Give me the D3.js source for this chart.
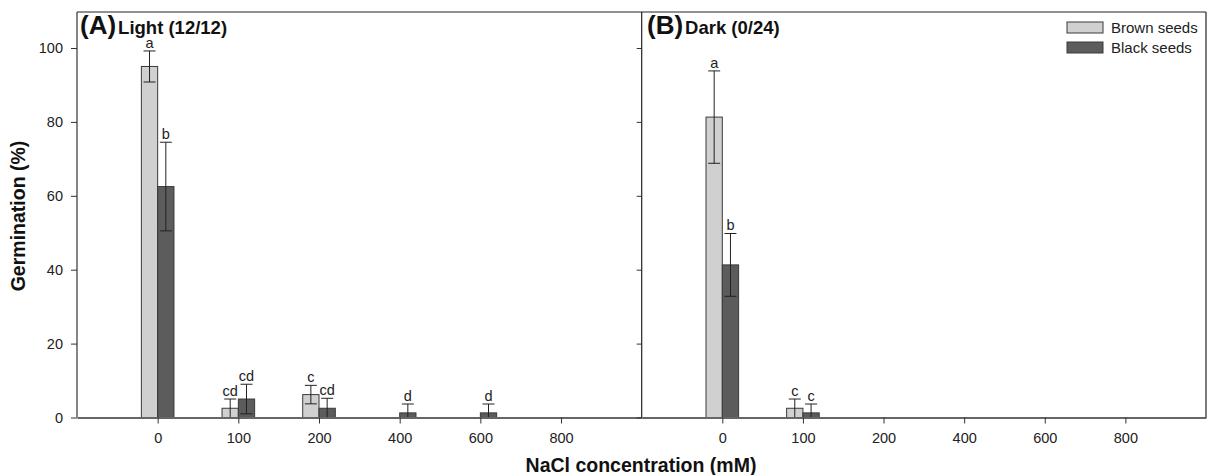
<!DOCTYPE html>
<html><head><meta charset="utf-8">
<script src="https://cdn.jsdelivr.net/npm/d3@7"></script>
<style>
body{margin:0;background:#fff;}
text{font-family:"Liberation Sans",Arial,sans-serif;}
</style></head>
<body><svg id="c" width="1210" height="475"></svg>
<script>
// ---- data ----
const categories = ["0","100","200","400","600","800"];
const yTicks = [0,20,40,60,80,100];
const seriesNames = ["Brown seeds","Black seeds"];

const lightBrown    = [95, 2.5, 6.2, 0, 0, 0];
const lightBrownErr = [4.2, 2.5, 2.5, 0, 0, 0];
const lightBrownLetters = ["a","cd","c","","",""];
const lightBlack    = [62.5, 5, 2.5, 1.25, 1.25, 0];
const lightBlackErr = [12, 4, 2.7, 2.4, 2.4, 0];
const lightBlackLetters = ["b","cd","cd","d","d",""];

const darkBrown    = [81.3, 2.5, 0, 0, 0, 0];
const darkBrownErr = [12.5, 2.5, 0, 0, 0, 0];
const darkBrownLetters = ["a","c","","","",""];
const darkBlack    = [41.3, 1.25, 0, 0, 0, 0];
const darkBlackErr = [8.5, 2.4, 0, 0, 0, 0];
const darkBlackLetters = ["b","c","","","",""];

// ---- layout ----
const svg = d3.select("#c");
const plotTop = 12, plotBottom = 417.5;
const xA0 = 77, xMid = 641.7, xB1 = 1206;
const barW = 16.3;
const colors = ["#d0d0d0","#5c5c5c"];
const y = d3.scaleLinear().domain([0,100]).range([plotBottom, 48]);

function panel(x0, x1, brown, brownErr, brownL, black, blackErr, blackL) {
  const x = d3.scalePoint().domain(categories).range([x0, x1]).padding(1);
  const g = svg.append("g");
  const series = [
    {v: brown, e: brownErr, l: brownL, off: -barW, c: colors[0]},
    {v: black, e: blackErr, l: blackL, off: 0, c: colors[1]}
  ];
  series.forEach(s => {
    categories.forEach((cat, i) => {
      const v = s.v[i];
      if (v <= 0) return;
      const bx = x(cat) + s.off;
      g.append("rect").attr("x", bx).attr("y", y(v)).attr("width", barW)
        .attr("height", y(0) - y(v)).attr("fill", s.c).attr("stroke", "#3a3a3a").attr("stroke-width", 1);
    });
  });
  series.forEach(s => {
    categories.forEach((cat, i) => {
      const v = s.v[i], e = s.e[i];
      const cx = x(cat) + s.off + barW / 2;
      let topY = y(v);
      if (e > 0) {
        const hi = v + e, lo = Math.max(0, v - e);
        topY = y(hi);
        g.append("line").attr("x1", cx).attr("x2", cx).attr("y1", y(hi)).attr("y2", y(lo))
          .attr("stroke", "#222").attr("stroke-width", 1);
        [hi, lo].forEach(t => {
          g.append("line").attr("x1", cx - 6).attr("x2", cx + 6).attr("y1", y(t)).attr("y2", y(t))
            .attr("stroke", "#222").attr("stroke-width", 1);
        });
      }
      if (s.l[i]) {
        g.append("text").attr("x", cx).attr("y", topY - 3).attr("text-anchor", "middle")
          .attr("font-size", 14.5).attr("fill", "#222").text(s.l[i]);
      }
    });
  });
  // x axis
  const ax = svg.append("g").attr("transform", `translate(0,${plotBottom})`)
    .call(d3.axisBottom(x).tickSize(6).tickPadding(9).tickSizeOuter(0));
  ax.select(".domain").attr("stroke", "#666").attr("stroke-width", 2);
  ax.selectAll(".tick line").attr("stroke", "#333");
  ax.selectAll(".tick text").attr("font-size", 14.5).attr("fill", "#222")
    .attr("font-family", "Liberation Sans, Arial, sans-serif");
  return x;
}

panel(xA0, xMid, lightBrown, lightBrownErr, lightBrownLetters, lightBlack, lightBlackErr, lightBlackLetters);
panel(xMid, xB1, darkBrown, darkBrownErr, darkBrownLetters, darkBlack, darkBlackErr, darkBlackLetters);

// y axis (panel A)
const yAx = svg.append("g").attr("transform", `translate(${xA0},0)`)
  .call(d3.axisLeft(y).tickValues(yTicks).tickSize(6).tickPadding(8).tickSizeOuter(0));
yAx.select(".domain").remove();
yAx.selectAll(".tick line").attr("stroke", "#333");
yAx.selectAll(".tick text").attr("font-size", 14.5).attr("fill", "#222")
  .attr("font-family", "Liberation Sans, Arial, sans-serif");
svg.append("line").attr("x1", xA0).attr("x2", xA0).attr("y1", plotTop).attr("y2", plotBottom)
  .attr("stroke", "#333").attr("stroke-width", 1.2);

// divider = panel B y axis (ticks only)
const yAxB = svg.append("g").attr("transform", `translate(${xMid},0)`)
  .call(d3.axisLeft(y).tickValues(yTicks).tickSize(5).tickFormat(""));
yAxB.select(".domain").remove();
yAxB.selectAll(".tick line").attr("stroke", "#333");
svg.append("line").attr("x1", xMid).attr("x2", xMid).attr("y1", plotTop).attr("y2", plotBottom)
  .attr("stroke", "#222").attr("stroke-width", 1.2);

// frame top & right
svg.append("line").attr("x1", xA0).attr("x2", xB1).attr("y1", plotTop).attr("y2", plotTop)
  .attr("stroke", "#222").attr("stroke-width", 1.2);
svg.append("line").attr("x1", xB1).attr("x2", xB1).attr("y1", plotTop).attr("y2", plotBottom)
  .attr("stroke", "#222").attr("stroke-width", 1.2);

// panel titles
function title(xp, letter, label) {
  const t = svg.append("text").attr("x", xp).attr("y", 34).attr("fill", "#111").attr("font-weight", "bold");
  t.append("tspan").attr("font-size", 26).text(letter);
  t.append("tspan").attr("font-size", 18.5).attr("dx", 2).text(label);
}
title(80, "(A)", "Light (12/12)");
title(647, "(B)", "Dark (0/24)");

// axis titles
svg.append("text").attr("transform", "translate(25,216) rotate(-90)").attr("text-anchor", "middle")
  .attr("font-size", 19.5).attr("font-weight", "bold").attr("fill", "#111").text("Germination (%)");
svg.append("text").attr("x", 641).attr("y", 472).attr("text-anchor", "middle")
  .attr("font-size", 19.5).attr("font-weight", "bold").attr("fill", "#111").text("NaCl concentration (mM)");

// legend
seriesNames.forEach((n, i) => {
  svg.append("rect").attr("x", 1067).attr("y", 22 + i * 20).attr("width", 36).attr("height", 11)
    .attr("fill", colors[i]).attr("stroke", "#3a3a3a").attr("stroke-width", 1);
  svg.append("text").attr("x", 1111).attr("y", 33 + i * 20).attr("font-size", 15).attr("fill", "#222").text(n);
});
</script></body></html>
